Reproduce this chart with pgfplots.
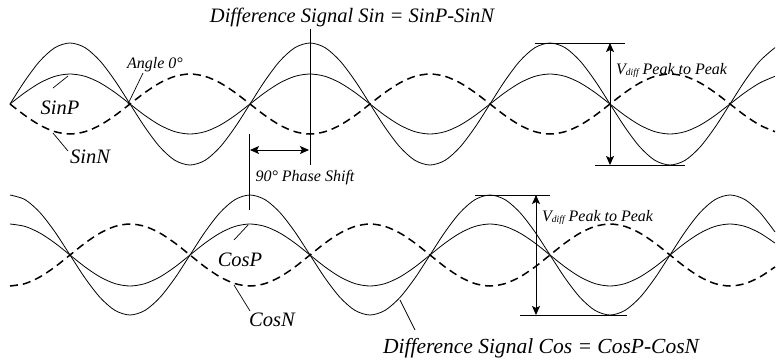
\documentclass[border=0pt]{standalone}
\usepackage{fontspec}
\setmainfont{Liberation Serif}
\usepackage{pgfplots}
\usepackage{pgfplotstable}
\pgfplotsset{compat=1.18}
\usetikzlibrary{arrows.meta}

% waveforms sampled every 22.5 degrees, y in picture units (top = 0)
% sp/sn/sd = SinP, SinN, SinP-SinN ; cp/cn/cd = CosP, CosN, CosP-CosN
\pgfplotstableread{
x   sp    sn    sd    cp    cn    cd
10  104   104   104   224   286   195
25  92.5  115.5 80.7  226.4 283.6 199.6
40  82.8  125.2 60.9  233.1 276.9 212.6
55  76.3  131.7 47.6  243.1 266.9 232.0
70  74    134   43    255   255   255
85  76.3  131.7 47.6  266.9 243.1 278.0
100 82.8  125.2 60.9  276.9 233.1 297.4
115 92.5  115.5 80.7  283.6 226.4 310.4
130 104   104   104   286   224   315
145 115.5 92.5  127.3 283.6 226.4 310.4
160 125.2 82.8  147.1 276.9 233.1 297.4
175 131.7 76.3  160.4 266.9 243.1 278.0
190 134   74    165   255   255   255
205 131.7 76.3  160.4 243.1 266.9 232.0
220 125.2 82.8  147.1 233.1 276.9 212.6
235 115.5 92.5  127.3 226.4 283.6 199.6
250 104   104   104   224   286   195
265 92.5  115.5 80.7  226.4 283.6 199.6
280 82.8  125.2 60.9  233.1 276.9 212.6
295 76.3  131.7 47.6  243.1 266.9 232.0
310 74    134   43    255   255   255
325 76.3  131.7 47.6  266.9 243.1 278.0
340 82.8  125.2 60.9  276.9 233.1 297.4
355 92.5  115.5 80.7  283.6 226.4 310.4
370 104   104   104   286   224   315
385 115.5 92.5  127.3 283.6 226.4 310.4
400 125.2 82.8  147.1 276.9 233.1 297.4
415 131.7 76.3  160.4 266.9 243.1 278.0
430 134   74    165   255   255   255
445 131.7 76.3  160.4 243.1 266.9 232.0
460 125.2 82.8  147.1 233.1 276.9 212.6
475 115.5 92.5  127.3 226.4 283.6 199.6
490 104   104   104   224   286   195
505 92.5  115.5 80.7  226.4 283.6 199.6
520 82.8  125.2 60.9  233.1 276.9 212.6
535 76.3  131.7 47.6  243.1 266.9 232.0
550 74    134   43    255   255   255
565 76.3  131.7 47.6  266.9 243.1 278.0
580 82.8  125.2 60.9  276.9 233.1 297.4
595 92.5  115.5 80.7  283.6 226.4 310.4
610 104   104   104   286   224   315
625 115.5 92.5  127.3 283.6 226.4 310.4
640 125.2 82.8  147.1 276.9 233.1 297.4
655 131.7 76.3  160.4 266.9 243.1 278.0
670 134   74    165   255   255   255
685 131.7 76.3  160.4 243.1 266.9 232.0
700 125.2 82.8  147.1 233.1 276.9 212.6
715 115.5 92.5  127.3 226.4 283.6 199.6
730 104   104   104   224   286   195
745 92.5  115.5 80.7  226.4 283.6 199.6
760 82.8  125.2 60.9  233.1 276.9 212.6
775 76.3  131.7 47.6  243.1 266.9 232.0
}\waves

\begin{document}
\begin{tikzpicture}[
    lbl/.style={font=\fontsize{20.5}{24}\selectfont\itshape, inner sep=0pt},
    sml/.style={font=\fontsize{16}{19}\selectfont\itshape, inner sep=0pt},
    dbl/.style={{Stealth[length=9pt,width=8pt,inset=2pt]}-{Stealth[length=9pt,width=8pt,inset=2pt]}, line width=0.9pt},
]
\begin{axis}[
    width=777pt, height=360pt,
    scale only axis,
    xmin=0, xmax=777, ymin=0, ymax=360,
    y dir=reverse,
    hide axis,
    clip=false,
]
% Sin panel
\addplot[black, line width=0.8pt, smooth] table[x=x, y=sp] {\waves};
\addplot[black, line width=1.5pt, smooth, dash pattern=on 8pt off 5pt] table[x=x, y=sn] {\waves};
\addplot[black, line width=0.8pt, smooth] table[x=x, y=sd] {\waves};
% Cos panel
\addplot[black, line width=0.8pt, smooth] table[x=x, y=cp] {\waves};
\addplot[black, line width=1.5pt, smooth, dash pattern=on 8pt off 5pt] table[x=x, y=cn] {\waves};
\addplot[black, line width=0.8pt, smooth] table[x=x, y=cd] {\waves};

% titles
\node[lbl] at (352,17) {Difference Signal Sin = SinP-SinN};
\node[lbl, font=\fontsize{21.5}{25}\selectfont\itshape] at (541,348) {Difference Signal Cos = CosP-CosN};
\draw[line width=0.7pt] (400,300) -- (415,330);

% phase shift marker
\draw[line width=0.7pt] (310,29) -- (310,165);
\draw[line width=0.7pt] (249,134) -- (249,210);
\draw[dbl] (250,150) -- (309,150);
\node[sml] at (305,178) {90° Phase Shift};

% labels with leaders
\node[sml] at (155,65) {Angle 0°};
\draw[line width=0.7pt] (143,73) -- (128,104);
\node[lbl] at (60,108) {SinP};
\draw[line width=0.7pt] (53,88) -- (68,76);
\node[lbl] at (90,157) {SinN};
\draw[line width=0.7pt] (53,133) -- (68,151);
\node[lbl] at (240,260) {CosP};
\draw[line width=0.7pt] (234,240) -- (248,225);
\node[lbl] at (272,320) {CosN};
\draw[line width=0.7pt] (234,285) -- (250,311);

% peak to peak, sin
\draw[line width=0.8pt] (535,43) -- (625,43);
\draw[line width=0.8pt] (595,165) -- (685,165);
\draw[dbl] (610,43) -- (610,165);
\node[sml, anchor=west] at (616,70) {V\raisebox{-1pt}{\fontsize{9.5}{10}\selectfont diff} Peak to Peak};
% peak to peak, cos
\draw[line width=0.8pt] (475,195) -- (550,195);
\draw[line width=0.8pt] (520,315) -- (627,315);
\draw[dbl] (536,195) -- (536,315);
\node[sml, anchor=west] at (542,217) {V\raisebox{-1pt}{\fontsize{9.5}{10}\selectfont diff} Peak to Peak};
\end{axis}
\pgfresetboundingbox
\path (current axis.south west) rectangle (current axis.north east);
\end{tikzpicture}
\end{document}
